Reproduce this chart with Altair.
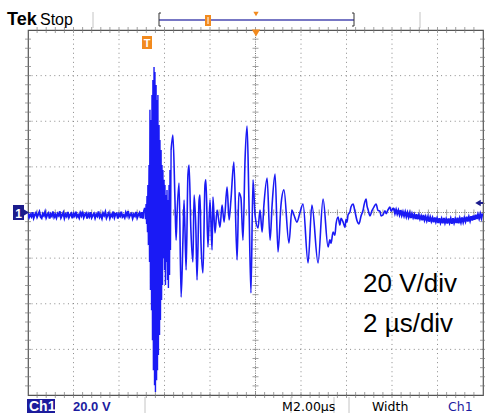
import altair as alt
import pandas as pd
import numpy as np

# ---------------- data (time in µs, voltage in V) ----------------
# pre-trigger baseline noise, sampled every 0.05 µs from 0 µs
base_v = [
    -0.4, -2.1, -0.9, -1.8, 0.1, -2.4, -1.1, -0.2, -2.0, -0.8,
    0.3, -1.9, -2.5, -0.6, -1.4, 0.2, -2.2, -1.0, -0.3, -2.6,
    -0.7, -1.6, 0.4, -2.0, -0.9, -2.3, -0.5, -1.3, 0.5, -2.2,
    -1.2, -0.1, -2.4, -0.8, -1.7, 0.2, -2.1, -1.0, -0.4, -2.5,
    -0.6, -1.5, 0.3, -1.9, -1.1, -2.3, -0.2, -1.4, 0.4, -2.1,
    -0.9, -0.3, -2.6, -0.7, -1.8, 0.1, -2.2, -1.2, -0.5, -2.4,
    -0.8, -1.6, 0.5, -2.0, -1.0, -2.5, -0.3, -1.3, 0.2, -2.3,
    -1.1, -0.2, -2.4, -0.9, -1.7, 0.4, -2.1, -0.6, -0.4, -2.6,
    -0.7, -1.5, 0.3, -1.9, -1.2, -2.2, -0.1, -1.4, 0.6, -2.0,
    -0.9, -0.4, -2.5, -0.8, -1.6, 0.2, -2.3, -1.0, -0.2, -2.4,
    0.1, -2.7, 0.8]

# main burst: upper / lower excursions of the fast oscillation
burst_t = [5.14, 5.19, 5.23, 5.27, 5.32, 5.36, 5.41, 5.45, 5.49, 5.54, 5.58, 5.63, 5.67,
           5.71, 5.76, 5.80, 5.85, 5.89, 5.93, 5.98, 6.02, 6.07, 6.11, 6.15, 6.20, 6.24]
burst_top = [2.0, 3.7, 7.2, 12.1, 20.8, 45.0, 40.6, 51.5, 58.1, 63.8, 61.6, 55.9, 49.3,
             51.5, 38.4, 31.8, 27.4, 20.8, 18.6, 14.3, 12.1, 7.7, 9.9, 5.5, 12.1, 18.6]
burst_bot = [-2.9, -5.0, -8.6, -14.3, -21.7, -34.0, -42.8, -56.0, -69.1, -75.7, -78.7, -73.5, -69.1,
             -62.5, -53.7, -47.1, -38.4, -31.8, -20.0, -25.2, -31.8, -21.7, -29.6, -33.1, -27.4, -16.4]

# ringing after the burst
ring_t = [6.29, 6.37, 6.46, 6.51, 6.55, 6.64, 6.73, 6.81, 6.86, 6.95,
          7.03, 7.08, 7.16, 7.25, 7.30, 7.38, 7.43, 7.52, 7.56, 7.60,
          7.69, 7.78, 7.82, 7.91, 8.00, 8.09, 8.13, 8.22, 8.31, 8.44,
          8.53, 8.62, 8.75, 8.84, 8.92, 9.05, 9.19, 9.27, 9.36, 9.45,
          9.54, 9.63, 9.71, 9.80, 9.89, 9.98, 10.11, 10.20, 10.29, 10.37,
          10.51, 10.64, 10.73, 10.86, 10.99, 11.12, 11.25, 11.47, 11.60, 11.69,
          11.82, 11.96, 12.09, 12.31, 12.48, 12.75, 12.97, 13.19, 13.27, 13.32,
          13.41, 13.49, 13.54, 13.63, 13.71, 13.76, 13.85, 13.93, 13.98, 14.02,
          14.07, 14.15, 14.20, 14.29, 14.37, 14.46, 14.55, 14.64, 14.73, 14.77,
          14.86, 14.90, 14.95, 15.03, 15.12, 15.21, 15.30, 15.38, 15.47, 15.52,
          15.60, 15.69, 15.74, 15.82, 15.91, 15.96, 16.04]
ring_v = [27.4, 34.0, 5.5, -12.1, -1.1, 12.9, -37.1, -12.1, 5.5, -25.2,
          16.4, 20.8, -7.7, -21.7, 7.7, -7.7, -29.6, 5.5, 7.7, -12.1,
          -26.5, 12.1, 14.3, -15.1, 5.5, -16.4, 6.8, -9.0, 1.1, -6.4,
          3.3, -4.2, 11.2, -3.3, 5.5, 22.1, -20.8, 8.6, 6.4, -12.1,
          23.0, 37.9, 5.5, -35.3, 14.3, -1.1, -6.8, 1.1, -8.6, 3.3,
          15.1, -12.1, 3.3, 16.9, -17.3, 3.3, 9.9, -13.4, 1.1, -1.1,
          -4.2, 0.2, 3.7, -22.1, 3.3, -22.1, 5.9, -15.1, -12.0, -13.5,
          -8.6, -10.0, -5.0, -2.0, -5.5, -2.5, -4.2, -6.5, -3.0, -4.2,
          -1.0, 0.2, 2.5, 3.7, 0.5, -3.5, -5.0, -1.5, 1.1, 3.2,
          5.9, 3.0, 1.2, -1.5, 0.8, 2.5, 3.7, 1.0, 0.5, -1.5,
          -1.1, 0.8, -0.5, 1.1, 2.4, 0.6, 2.0]

# late tail noise, sampled every 0.05 µs from 16.08 µs
tail_v = [
    1.6, -0.4, 1.2, -0.6, 0.9, -0.9, 1.0, -1.2, 0.3, -1.5,
    0.2, -1.8, -0.1, -2.0, -0.3, -2.4, -0.6, -2.2, -0.9, -2.9,
    -0.8, -3.0, -1.2, -2.8, -1.5, -3.4, -1.1, -3.3, -1.8, -3.6,
    -1.9, -4.0, -2.1, -3.8, -2.4, -4.3, -2.2, -4.1, -2.6, -4.6,
    -2.5, -4.4, -2.8, -4.7, -2.4, -4.5, -2.9, -4.8, -2.6, -4.4,
    -2.7, -4.9, -2.5, -4.5, -2.8, -4.6, -2.3, -4.7, -2.6, -4.3,
    -2.2, -4.2, -2.4, -3.9, -1.8, -4.0, -2.0, -3.6, -1.6, -3.5,
    -1.3, -3.2, -1.0, -2.9, -0.9, -2.6, -0.6, -2.4, -0.4]

# graticule
grid_t = [2, 4, 6, 8, 12, 14, 16, 18]
grid_v = [-60, -40, -20, 20, 40, 60]

# ---------------- assemble trace segments ----------------
base_rows = [(round(0.05 * i, 3), v) for i, v in enumerate(base_v)]
burst_rows = []
for t, a, b in zip(burst_t, burst_top, burst_bot):
    burst_rows.append((t, a))
    burst_rows.append((round(t + 0.022, 3), b))
ring_rows = list(zip(ring_t, ring_v))
tail_rows = [(round(16.08 + 0.05 * i, 3), v) for i, v in enumerate(tail_v)]

noise_df = pd.DataFrame(base_rows + [burst_rows[0]], columns=["t", "v"])
burst_df = pd.DataFrame(burst_rows + [ring_rows[0]], columns=["t", "v"])
ring_df = pd.DataFrame(ring_rows, columns=["t", "v"])
tail_df = pd.DataFrame([ring_rows[-1]] + tail_rows, columns=["t", "v"])

X = lambda: alt.X("t:Q", scale=alt.Scale(domain=[0, 20], nice=False, zero=False), axis=None)
Y = lambda: alt.Y("v:Q", scale=alt.Scale(domain=[-80, 80], nice=False, zero=False), axis=None)

GRID = "#8a8a8a"
NAVY = "#1c1c8c"
ORANGE = "#f28a1e"
TRACE = "#1a1af5"
FONT = "Liberation Sans"

layers = []

# dotted graticule
layers.append(alt.Chart(pd.DataFrame({"t": grid_t})).mark_rule(
    color=GRID, strokeWidth=1, strokeDash=[1, 3.55]).encode(x=X()))
layers.append(alt.Chart(pd.DataFrame({"v": grid_v})).mark_rule(
    color=GRID, strokeWidth=1, strokeDash=[1, 3.55]).encode(y=Y()))
# centre cross
layers.append(alt.Chart(pd.DataFrame({"t": [10]})).mark_rule(
    color="#777", strokeWidth=1, strokeDash=[1, 1.3]).encode(x=X()))
layers.append(alt.Chart(pd.DataFrame({"v": [0]})).mark_rule(
    color="#777", strokeWidth=1, strokeDash=[1, 1.3]).encode(y=Y()))

minor_t = [round(x, 2) for x in np.arange(0.4, 20, 0.4)]
minor_v = [round(x, 1) for x in np.arange(-76, 80, 4)]
tick_h = pd.DataFrame([(tt, v) for tt in (0, 10, 20) for v in minor_v], columns=["t", "v"])
tick_v = pd.DataFrame([(t, vv) for vv in (-80, 0, 80) for t in minor_t], columns=["t", "v"])
layers.append(alt.Chart(tick_h).mark_tick(orient="horizontal", size=6, thickness=1, color="#777").encode(x=X(), y=Y()))
layers.append(alt.Chart(tick_v).mark_tick(orient="vertical", size=6, thickness=1, color="#777").encode(x=X(), y=Y()))

# waveform
layers.append(alt.Chart(noise_df).mark_line(color=TRACE, strokeWidth=2.0, clip=True).encode(x=X(), y=Y()))
layers.append(alt.Chart(burst_df).mark_line(color=TRACE, strokeWidth=1.4, clip=True).encode(x=X(), y=Y()))
layers.append(alt.Chart(ring_df).mark_line(color=TRACE, strokeWidth=1.6, interpolate="monotone", clip=True).encode(x=X(), y=Y()))
layers.append(alt.Chart(tail_df).mark_line(color=TRACE, strokeWidth=2.0, clip=True).encode(x=X(), y=Y()))

one = pd.DataFrame({"a": [0]})

def txt(s, x, y, size, color="black", weight="normal", font=FONT, align="left"):
    return alt.Chart(one).mark_text(text=s, align=align, baseline="alphabetic", fontSize=size,
                                    fontWeight=weight, font=font, color=color).encode(
        x=alt.value(x), y=alt.value(y))

def rect(x1, x2, y1, y2, color):
    return alt.Chart(one).mark_rect(color=color).encode(
        x=alt.value(x1), x2=alt.value(x2), y=alt.value(y1), y2=alt.value(y2))

def vline(x, y1, y2, color, w=1):
    return alt.Chart(one).mark_rule(color=color, strokeWidth=w).encode(
        x=alt.value(x), y=alt.value(y1), y2=alt.value(y2))

def hline(y, x1, x2, color, w=1):
    return alt.Chart(one).mark_rule(color=color, strokeWidth=w).encode(
        y=alt.value(y), x=alt.value(x1), x2=alt.value(x2))

def tri(shape, x, y, size, color):
    return alt.Chart(one).mark_point(shape=shape, filled=True, size=size, color=color, opacity=1).encode(
        x=alt.value(x), y=alt.value(y))

# annotation text in the plot
layers.append(txt("20 V/div", 335, 262, 26))
layers.append(txt("2 µs/div", 335, 302, 26))

# trigger marker "T" inside the plot and top-centre triangle
layers.append(rect(114, 124, 6, 19, ORANGE))
layers.append(txt("T", 119, 16.5, 11, color="white", weight="bold", align="center"))
layers.append(tri("triangle-down", 228, 3, 70, ORANGE))

# channel 1 ground marker and trigger level arrow
layers.append(rect(-15, -4, 175, 190, NAVY))
layers.append(tri("triangle-right", -2.5, 182.5, 70, NAVY))
layers.append(txt("1", -9.5, 187.5, 12, color="white", weight="bold", align="center"))
layers.append(tri("triangle-left", 450, 173, 40, NAVY))
layers.append(hline(173, 450, 455, NAVY, 2))

# ---- top status bar ----
layers.append(txt("Tek", -21, -5, 18, weight="bold"))
layers.append(txt("Stop", 12, -5, 16))
layers.append(vline(65, -18, -2, "#c4c4c4"))
layers.append(vline(392, -18, -2, "#c4c4c4"))
layers.append(hline(-10, 131, 326, "#4a4ab0", 1.5))
layers.append(vline(131, -17, -4, "#333"))
layers.append(hline(-17, 131, 133, "#333"))
layers.append(hline(-4, 131, 133, "#333"))
layers.append(vline(326, -17, -4, "#333"))
layers.append(hline(-17, 324, 326, "#333"))
layers.append(hline(-4, 324, 326, "#333"))
layers.append(rect(177, 183, -15, -4, ORANGE))
layers.append(vline(180, -13, -6, "white"))
layers.append(tri("triangle-down", 228, -16, 28, ORANGE))

# ---- bottom status bar ----
layers.append(rect(-1, 27, 369, 383, "#1c1c9c"))
layers.append(txt("Ch1", 1, 381, 14, color="white", weight="bold"))
layers.append(txt("20.0 V", 45, 381, 13, color="#1c1ca0", weight="bold"))
for sx in (117, 263, 306, 321):
    layers.append(vline(sx, 367, 383, "#c4c4c4"))
layers.append(txt("M", 254, 381, 12.5, font="DejaVu Sans"))
layers.append(txt("2.00µs", 265, 381, 12.5, font="DejaVu Sans"))
layers.append(txt("Width", 344, 381, 12.5, font="DejaVu Sans"))
layers.append(txt("Ch1", 420, 381, 12.5, color="#1c1ca0", font="DejaVu Sans"))

chart = alt.layer(*layers).properties(
    width=455, height=365,
    padding={"left": 28, "top": 30, "right": 2, "bottom": 18},
    autosize=alt.AutoSizeParams(type="none"),
    background="white",
).configure_view(stroke="#555", strokeWidth=1.2)

chart.save("out.html", embed_options={"renderer": "svg", "actions": False})
